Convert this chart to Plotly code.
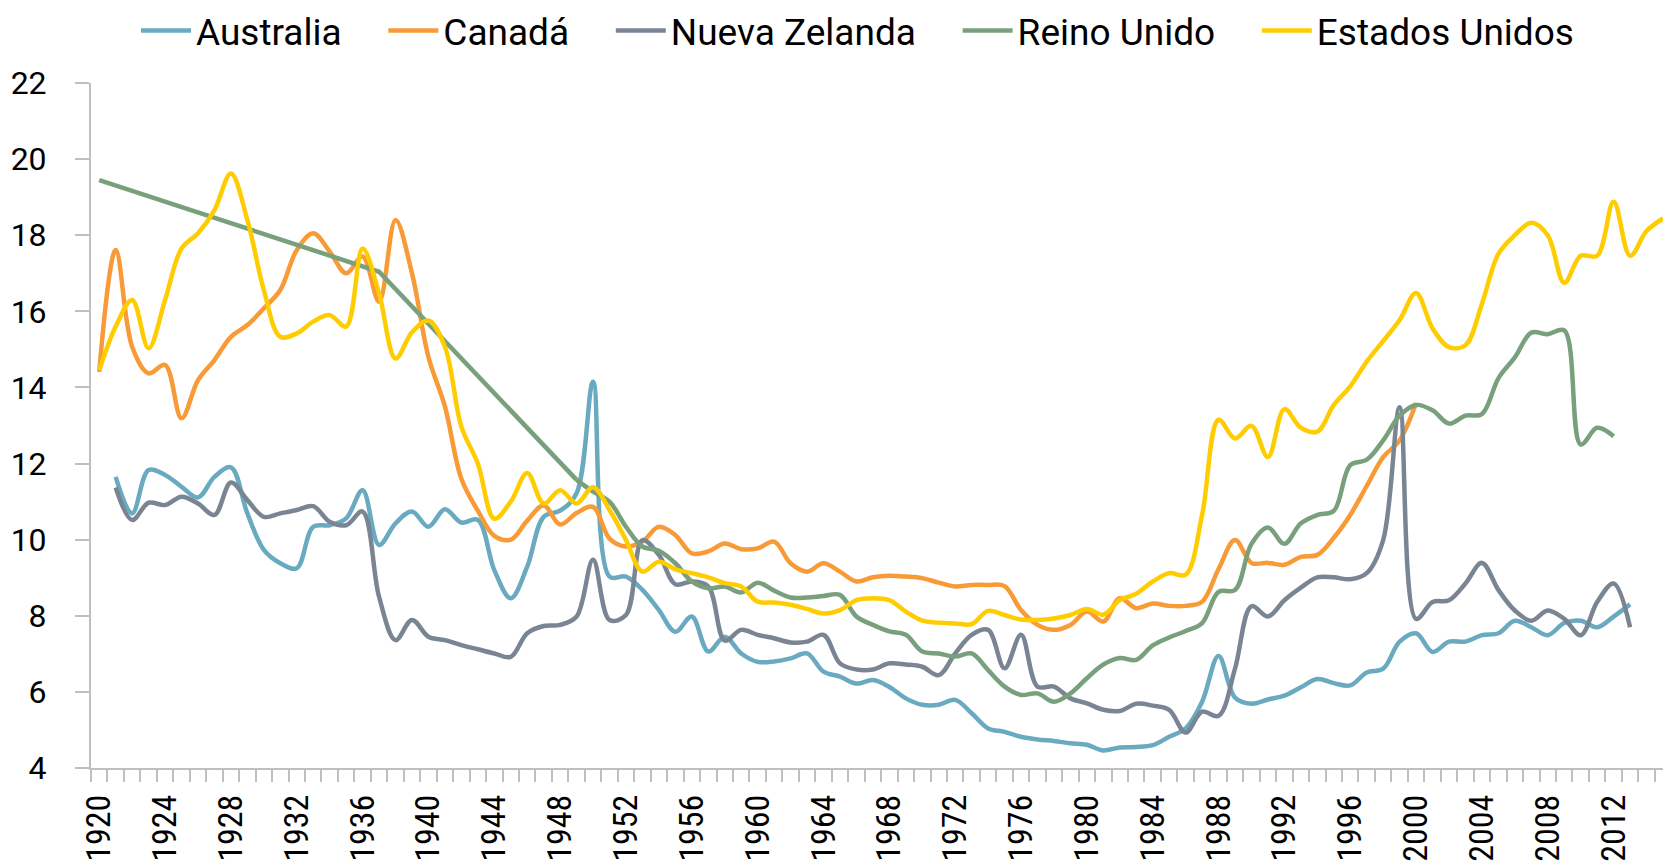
import plotly.graph_objects as go

# ---------------- data ----------------
years_aus = list(range(1921, 2014))
australia = [11.65, 10.69, 11.83, 11.70, 11.39, 11.11, 11.65, 11.90, 10.69, 9.73,
             9.38, 9.25, 10.34, 10.38, 10.56, 11.30, 9.86, 10.43, 10.74, 10.34,
             10.80, 10.45, 10.52, 9.20, 8.46, 9.29, 10.60, 10.76, 11.22, 14.15,
             9.03, 9.03, 8.68, 8.15, 7.58, 7.98, 7.06, 7.45, 7.01, 6.79,
             6.80, 6.88, 7.01, 6.53, 6.40, 6.22, 6.31, 6.13, 5.83, 5.66,
             5.66, 5.79, 5.44, 5.04, 4.95, 4.82, 4.75, 4.71, 4.65, 4.61,
             4.46, 4.54, 4.55, 4.60, 4.82, 5.04, 5.74, 6.94, 5.85, 5.69,
             5.80, 5.90, 6.12, 6.34, 6.23, 6.17, 6.51, 6.61, 7.32, 7.54,
             7.05, 7.32, 7.32, 7.49, 7.54, 7.87, 7.70, 7.49, 7.81, 7.87,
             7.70, 7.98, 8.30]

years_can = list(range(1920, 2001))
canada = [14.41, 17.61, 15.07, 14.37, 14.59, 13.19, 14.19, 14.72, 15.33, 15.64,
          16.08, 16.56, 17.61, 18.05, 17.57, 17.00, 17.44, 16.25, 18.40, 17.00,
          14.80, 13.50, 11.60, 10.76, 10.10, 10.00, 10.50, 10.90, 10.40, 10.70,
          10.86, 10.03, 9.82, 9.95, 10.34, 10.12, 9.64, 9.69, 9.90, 9.75,
          9.77, 9.95, 9.38, 9.16, 9.38, 9.16, 8.90, 9.01, 9.05, 9.03,
          8.99, 8.87, 8.77, 8.81, 8.81, 8.78, 8.15, 7.76, 7.63, 7.76,
          8.11, 7.85, 8.46, 8.20, 8.32, 8.26, 8.26, 8.37, 9.23, 9.99,
          9.39, 9.39, 9.34, 9.55, 9.60, 10.05, 10.65, 11.41, 12.17, 12.61,
          13.59]

years_nz = list(range(1921, 2014))
nueva_zelanda = [11.37, 10.52, 10.97, 10.91, 11.13, 10.95, 10.65, 11.50, 11.04, 10.60,
                 10.69, 10.78, 10.88, 10.47, 10.38, 10.74, 8.50, 7.36, 7.89, 7.45,
                 7.36, 7.23, 7.12, 7.01, 6.92, 7.54, 7.73, 7.76, 7.98, 9.47,
                 7.89, 8.02, 9.99, 9.60, 8.83, 8.90, 8.77, 7.35, 7.63, 7.50,
                 7.41, 7.30, 7.32, 7.50, 6.75, 6.59, 6.59, 6.75, 6.72, 6.66,
                 6.44, 7.01, 7.50, 7.63, 6.62, 7.50, 6.14, 6.14, 5.83, 5.70,
                 5.53, 5.50, 5.69, 5.64, 5.53, 4.93, 5.48, 5.37, 6.61, 8.25,
                 7.98, 8.41, 8.74, 9.01, 9.01, 8.96, 9.12, 9.99, 13.48, 7.92,
                 8.36, 8.41, 8.85, 9.39, 8.68, 8.14, 7.87, 8.14, 7.92, 7.49,
                 8.36, 8.85, 7.70]

years_uk = [1920, 1937, 1949] + list(range(1950, 2013))
reino_unido = [19.45, 17.04, 11.57,
               11.26, 11.00, 10.34, 9.82, 9.71, 9.38, 8.90, 8.72, 8.77, 8.61,
               8.87, 8.66, 8.48, 8.48, 8.52, 8.55, 7.98, 7.76, 7.59, 7.50,
               7.06, 7.01, 6.93, 7.01, 6.57, 6.14, 5.92, 5.96, 5.74, 5.96,
               6.36, 6.72, 6.89, 6.84, 7.22, 7.43, 7.60, 7.81, 8.63, 8.68,
               9.89, 10.32, 9.89, 10.43, 10.65, 10.76, 11.96, 12.10, 12.61, 13.26,
               13.54, 13.40, 13.05, 13.26, 13.30, 14.24, 14.79, 15.44, 15.40, 15.50,
               12.50, 12.94, 12.72]
uk_sparse_points = 3   # 1920, 1937 and 1949 are joined by straight segments

years_us = list(range(1920, 2016))
estados_unidos = [14.45, 15.60, 16.30, 15.03, 16.30, 17.65, 18.05, 18.66, 19.62, 18.40,
                  16.56, 15.33, 15.42, 15.73, 15.90, 15.60, 17.65, 16.47, 14.76, 15.45,
                  15.76, 15.07, 12.97, 12.00, 10.55, 11.00, 11.75, 10.95, 11.30, 10.95,
                  11.38, 10.78, 9.99, 9.16, 9.42, 9.22, 9.12, 9.01, 8.86, 8.77,
                  8.37, 8.35, 8.29, 8.18, 8.06, 8.15, 8.41, 8.46, 8.41, 8.11,
                  7.87, 7.82, 7.80, 7.78, 8.13, 8.02, 7.90, 7.89, 7.93, 8.02,
                  8.18, 8.03, 8.41, 8.58, 8.90, 9.12, 9.08, 10.65, 13.15, 12.66,
                  12.99, 12.17, 13.43, 12.94, 12.84, 13.54, 14.03, 14.68, 15.22, 15.77,
                  16.48, 15.55, 15.06, 15.11, 16.20, 17.51, 18.00, 18.33, 18.00, 16.75,
                  17.46, 17.46, 18.88, 17.46, 18.11, 18.44]

x_tick_labels = list(range(1920, 2013, 4))
y_tick_values = list(range(4, 23, 2))

COLORS = {
    "Australia": "#69AAC1",
    "Canadá": "#F89A36",
    "Nueva Zelanda": "#7A8594",
    "Reino Unido": "#78A07C",
    "Estados Unidos": "#FFCC00",
}

FONT = "Roboto, Liberation Sans, Arial, sans-serif"
NARROW = "Liberation Sans Narrow, Arial Narrow, Roboto Condensed, Roboto, sans-serif"
AXIS_GREY = "#BFBFBF"
PAD = "\u00a0" * 4
LW = 4.5

fig = go.Figure()


def add_line(name, xs, ys, last=False, shape="spline", show=True):
    fig.add_trace(go.Scatter(
        x=xs, y=ys, name=name + ("" if last else PAD), mode="lines",
        legendgroup=name, showlegend=show,
        line=dict(color=COLORS[name], width=LW, shape=shape,
                  **({"smoothing": 1.0} if shape == "spline" else {})),
        hovertemplate=name + " %{x}: %{y:.2f}<extra></extra>",
    ))


add_line("Australia", years_aus, australia)
add_line("Canadá", years_can, canada)
add_line("Nueva Zelanda", years_nz, nueva_zelanda)
add_line("Reino Unido", years_uk[uk_sparse_points - 1:], reino_unido[uk_sparse_points - 1:])
add_line("Reino Unido", years_uk[:uk_sparse_points], reino_unido[:uk_sparse_points],
         shape="linear", show=False)
add_line("Estados Unidos", years_us, estados_unidos, last=True)

fig.update_layout(
    width=1663, height=863,
    margin=dict(l=91, r=0, t=83, b=95),
    paper_bgcolor="white", plot_bgcolor="white",
    font=dict(family=FONT, color="black"),
    showlegend=True,
    legend=dict(
        orientation="h",
        xref="container", yref="container",
        x=136 / 1663, xanchor="left",
        y=1.0, yanchor="top",
        font=dict(size=37, family=FONT, color="black"),
        itemwidth=50,
        bgcolor="rgba(0,0,0,0)",
    ),
    xaxis=dict(
        range=[1919.5, 2015.0],
        tickmode="array", tickvals=x_tick_labels,
        ticktext=[str(v) for v in x_tick_labels],
        tickangle=-90,
        ticks="",
        ticklabelstandoff=11,
        tickfont=dict(size=34, family=NARROW, color="black"),
        showline=True, linecolor=AXIS_GREY, linewidth=2,
        showgrid=False, zeroline=False,
        minor=dict(ticks="outside", tick0=1919.5, dtick=1, ticklen=12,
                   tickwidth=2, tickcolor=AXIS_GREY, showgrid=False),
    ),
    yaxis=dict(
        range=[4, 22],
        tickmode="array", tickvals=y_tick_values,
        ticks="outside", ticklen=14, tickwidth=2, tickcolor=AXIS_GREY,
        ticklabelstandoff=22,
        tickfont=dict(size=32, family=FONT, color="black"),
        showline=True, linecolor=AXIS_GREY, linewidth=2,
        showgrid=False, zeroline=False,
    ),
)

fig.write_html("out.html", config={"displayModeBar": False},
               post_script="document.body.style.margin='0';document.body.style.overflow='hidden';")
